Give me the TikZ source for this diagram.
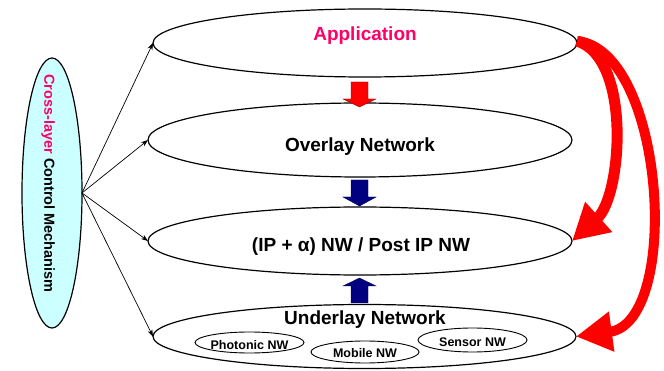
\documentclass[tikz,border=0pt]{standalone}
\usepackage{fontspec}
\setmainfont{Liberation Sans}
\usetikzlibrary{shapes.geometric,arrows.meta}
\definecolor{mag}{HTML}{FF0066}
\definecolor{lcyan}{HTML}{CCFFFF}
\definecolor{navy}{HTML}{000080}
\tikzset{
  layer/.style={draw=black,line width=1.2pt,ellipse,fill=white,inner sep=0pt,outer sep=0pt},
  sublayer/.style={draw=black,line width=0.9pt,ellipse,fill=white,inner sep=0pt,outer sep=0pt},
  big/.style={font=\fontsize{19}{22}\selectfont\bfseries,anchor=base},
  small/.style={font=\fontsize{12.5}{15}\selectfont\bfseries,anchor=base},
  thin/.style={line width=0.7pt,-{Stealth[length=7pt,width=5pt]}},
  bigred/.style={draw=red,-{Triangle[length=36pt,width=38pt]}},
  blockred/.style={fill=red,draw=red!60!black,line width=0.4pt},
  blocknavy/.style={fill=navy,draw=navy!60!black,line width=0.4pt}
}
\begin{document}
\begin{tikzpicture}[x=1pt,y=-1pt]
\useasboundingbox (0,0) rectangle (664,371);
% left control ellipse
\node[draw=black,line width=1.2pt,ellipse,fill=lcyan,minimum width=60pt,minimum height=270pt,inner sep=0pt,outer sep=0pt] (ctl) at (52,193) {};
\node[rotate=-90,font=\fontsize{14.5}{17}\selectfont\bfseries] (ctltxt) at (48,183.5) {\textcolor{mag}{Cross-layer} Control Mechanism};
% layers
\node[layer,minimum width=424pt,minimum height=68pt] (app) at (365,43) {};
\node[layer,minimum width=424pt,minimum height=74pt] (ovl) at (360,140) {};
\node[layer,minimum width=424pt,minimum height=68pt] (ip) at (360,241) {};
\node[layer,minimum width=423pt,minimum height=64pt] (und) at (364.5,336.5) {};
% sub-ellipses
\node[sublayer,minimum width=109pt,minimum height=21pt] (pho) at (249.5,342.5) {};
\node[sublayer,minimum width=108pt,minimum height=22pt] (mob) at (365,352) {};
\node[sublayer,minimum width=109pt,minimum height=24pt] (sen) at (472.5,340) {};
% texts
\node[big,text=mag] (apptxt) at (365,41) {Application};
\node[big] (ovltxt) at (360,152) {Overlay Network};
\node[big] (iptxt) at (361,252) {(IP + α) NW / Post IP NW};
\node[big] (undtxt) at (365,325) {Underlay Network};
\node[small] (photxt) at (249.5,349) {Photonic NW};
\node[small] (mobtxt) at (365,357) {Mobile NW};
\node[small] (sentxt) at (472.5,346.5) {Sensor NW};
% thin connectors
\draw[thin] (ctl.east) -- (app.west);
\draw[thin] (ctl.east) -- (ovl.west);
\draw[thin] (ctl.east) -- (ip.west);
\draw[thin] (ctl.east) -- (und.west);
% block arrows
\draw[blockred] (351,82) -- (368,82) -- (368,99) -- (376,99) -- (359.5,107) -- (343,99) -- (351,99) -- cycle;
\draw[blocknavy] (351,180) -- (368,180) -- (368,197) -- (376,197) -- (359.5,206) -- (343,197) -- (351,197) -- cycle;
\draw[blocknavy] (351,303) -- (368,303) -- (368,286) -- (376,286) -- (359.5,278) -- (343,286) -- (351,286) -- cycle;
% red curved arrows
\coordinate (s) at (577,41);
\draw[bigred,line width=11pt] (s) .. controls (632,58) and (622,196) .. (ip.east);
\draw[bigred,line width=10pt] (s) .. controls (665,50) and (682,322) .. (und.east);
\end{tikzpicture}
\end{document}
